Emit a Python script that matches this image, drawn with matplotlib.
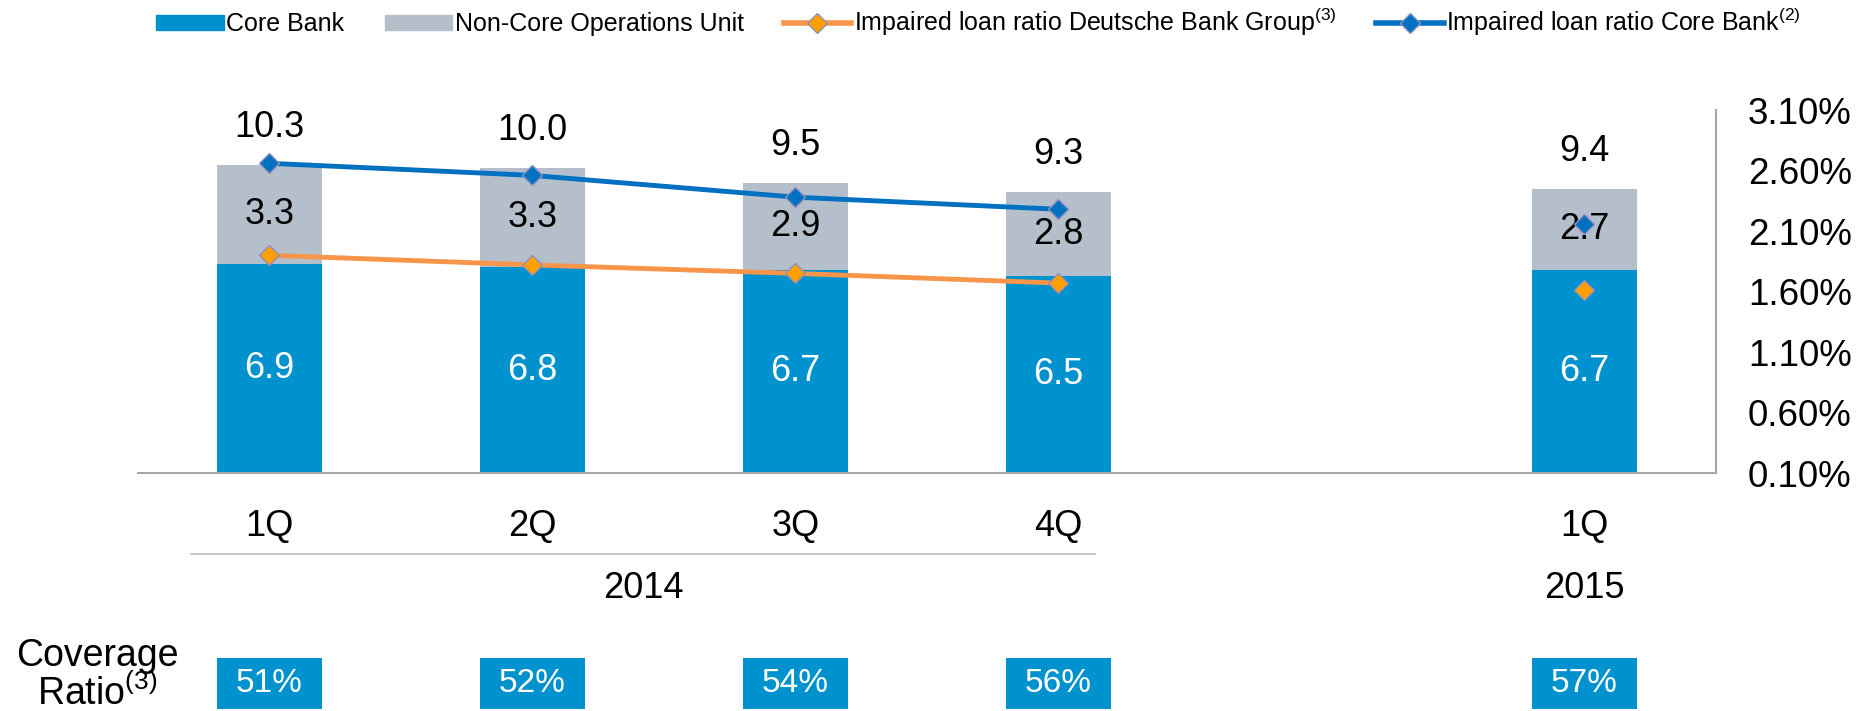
"""Impaired loans chart: Core Bank vs Non-Core Operations Unit."""

import matplotlib

matplotlib.use("Agg")
import matplotlib.pyplot as plt
from matplotlib.lines import Line2D
from matplotlib.patches import Patch

plt.rcParams["font.family"] = ["Liberation Sans", "DejaVu Sans"]
plt.rcParams["mathtext.fontset"] = "custom"
plt.rcParams["mathtext.rm"] = "Liberation Sans"
plt.rcParams["mathtext.it"] = "Liberation Sans"

# data
quarters = ["1Q", "2Q", "3Q", "4Q", "1Q"]
positions = [0, 1, 2, 3, 5]
core_bank = [6.9, 6.8, 6.7, 6.5, 6.7]
non_core = [3.3, 3.3, 2.9, 2.8, 2.7]
totals = [10.3, 10.0, 9.5, 9.3, 9.4]
ratio_group = [1.90, 1.82, 1.75, 1.67, 1.61]
ratio_core = [2.66, 2.56, 2.38, 2.28, 2.16]
coverage = ["51%", "52%", "54%", "56%", "57%"]
right_ticks = [0.10, 0.60, 1.10, 1.60, 2.10, 2.60, 3.10]

BLUE = "#0091CF"
GREY = "#B4BFCB"
ORANGE_LINE = "#F7964A"
ORANGE_MARK = "#FFA000"
CORE_LINE = "#0070C0"
EDGE = "#8E8EBF"
SPINE = "#A6A6A6"

fig = plt.figure(figsize=(18.75, 7.11), dpi=100)
ax = fig.add_axes([0.0736, 0.3347, 0.8415, 0.5105])

ax.bar(positions, core_bank, width=0.4, color=BLUE, zorder=2)
ax.bar(positions, non_core, width=0.4, bottom=core_bank, color=GREY, zorder=2)
ax.set_xlim(-0.5, 5.5)
ax.set_ylim(0, 12)

for x, c, n, t in zip(positions, core_bank, non_core, totals):
    ax.text(x, c / 2, f"{c:.1f}", ha="center", va="center", color="white", fontsize=26, zorder=5)
    ax.text(x, c + n / 2, f"{n:.1f}", ha="center", va="center", color="black", fontsize=26, zorder=5)
    ax.annotate(f"{t:.1f}", (x, c + n), xytext=(0, 27), textcoords="offset points",
                ha="center", va="center", fontsize=26)

ax.set_xticks(positions)
ax.set_xticklabels(quarters, fontsize=26)
ax.tick_params(axis="x", length=0, pad=26)
ax.set_yticks([])
for side in ["left", "top", "right"]:
    ax.spines[side].set_visible(False)
ax.spines["bottom"].set_color(SPINE)
ax.spines["bottom"].set_linewidth(1.5)

# year grouping under the quarter labels
trans = ax.get_xaxis_transform()
ax.plot([-0.30, 3.14], [-0.223, -0.223], color="#BFBFBF", lw=1.2, transform=trans, clip_on=False)
ax.text(1.42, -0.317, "2014", transform=trans, ha="center", va="center", fontsize=26)
ax.text(5, -0.317, "2015", transform=trans, ha="center", va="center", fontsize=26)

# ratio lines on the right axis
ax2 = ax.twinx()
ax2.set_ylim(0.10, 3.10)
ax2.set_yticks(right_ticks)
ax2.set_yticklabels([f"{v:.2f}%" for v in right_ticks], fontsize=26.5)
ax2.tick_params(axis="y", length=0, pad=23)
for side in ["left", "top", "bottom"]:
    ax2.spines[side].set_visible(False)
ax2.spines["right"].set_color(SPINE)
ax2.spines["right"].set_linewidth(1.5)

marker_kw = dict(marker="D", markersize=10.5, markeredgecolor=EDGE, markeredgewidth=1)
ax2.plot(positions[:4], ratio_group[:4], color=ORANGE_LINE, lw=3.5,
         markerfacecolor=ORANGE_MARK, zorder=4, **marker_kw)
ax2.plot(positions[4:], ratio_group[4:], linestyle="none",
         markerfacecolor=ORANGE_MARK, zorder=4, **marker_kw)
ax2.plot(positions[:4], ratio_core[:4], color=CORE_LINE, lw=3.5,
         markerfacecolor=CORE_LINE, zorder=4, **marker_kw)
ax2.plot(positions[4:], ratio_core[4:], linestyle="none",
         markerfacecolor=CORE_LINE, zorder=4, **marker_kw)

# coverage ratio row
ax3 = fig.add_axes([0.0736, 0.003, 0.8415, 0.071], sharex=ax)
ax3.bar(positions, [1] * len(positions), width=0.4, color=BLUE)
for x, label in zip(positions, coverage):
    ax3.text(x, 0.5, label, ha="center", va="center", color="white", fontsize=24)
ax3.set_ylim(0, 1)
ax3.axis("off")

fig.text(0.052, 0.078, "Coverage", ha="center", va="center", fontsize=27)
fig.text(0.052, 0.024, r"Ratio$^{\mathrm{(3)}}$", ha="center", va="center", fontsize=27)

handles = [
    Patch(color=BLUE, label="Core Bank"),
    Patch(color=GREY, label="Non-Core Operations Unit"),
    Line2D([], [], color=ORANGE_LINE, lw=4, markerfacecolor=ORANGE_MARK,
           label=r"Impaired loan ratio Deutsche Bank Group$^{\mathrm{(3)}}$", **marker_kw),
    Line2D([], [], color=CORE_LINE, lw=4, markerfacecolor=CORE_LINE,
           label=r"Impaired loan ratio Core Bank$^{\mathrm{(2)}}$", **marker_kw),
]
fig.legend(handles=handles, loc="center", bbox_to_anchor=(0.522, 0.969), ncol=4,
           frameon=False, fontsize=18, handlelength=2.7, handletextpad=0.1,
           columnspacing=1.6, handleheight=0.55)

fig.savefig("out.png", dpi=100)
plt.close(fig)
